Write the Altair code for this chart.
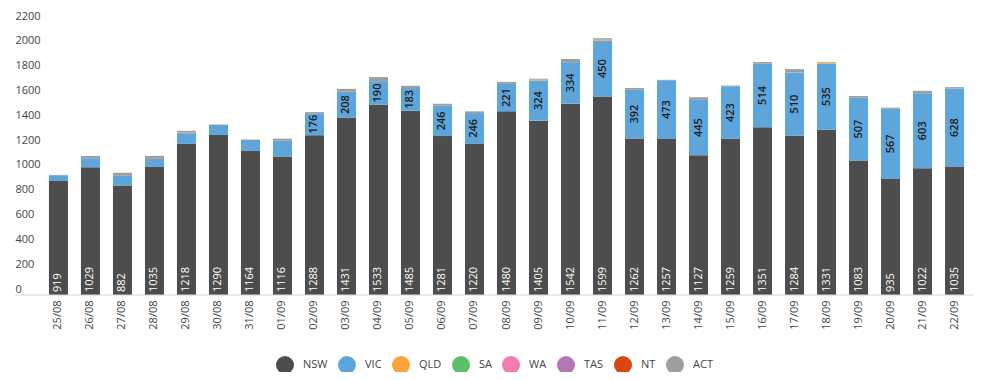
import altair as alt
import pandas as pd

dates = ["25/08", "26/08", "27/08", "28/08", "29/08", "30/08", "31/08",
         "01/09", "02/09", "03/09", "04/09", "05/09", "06/09", "07/09",
         "08/09", "09/09", "10/09", "11/09", "12/09", "13/09", "14/09",
         "15/09", "16/09", "17/09", "18/09", "19/09", "20/09", "21/09", "22/09"]

nsw = [919, 1029, 882, 1035, 1218, 1290, 1164, 1116, 1288, 1431, 1533, 1485, 1281, 1220,
       1480, 1405, 1542, 1599, 1262, 1257, 1127, 1259, 1351, 1284, 1331, 1083, 935, 1022, 1035]
vic = [46, 73, 78, 62, 86, 81, 86, 128, 176, 208, 190, 183, 246, 246,
       221, 324, 334, 450, 392, 473, 445, 423, 514, 510, 535, 507, 567, 603, 628]
qld = [0, 0, 0, 0, 5, 0, 0, 0, 0, 0, 0, 0, 0, 0,
       0, 6, 0, 8, 0, 0, 0, 0, 0, 0, 10, 0, 0, 0, 0]
sa = [0] * 29
wa = [0] * 29
tas = [0] * 29
nt = [0] * 29
act = [3, 18, 26, 24, 14, 3, 3, 16, 10, 22, 33, 18, 14, 14,
       16, 8, 26, 12, 14, 4, 22, 6, 12, 26, 2, 14, 8, 20, 12]

y_ticks = [0, 200, 400, 600, 800, 1000, 1200, 1400, 1600, 1800, 2000, 2200]

states = ["NSW", "VIC", "QLD", "SA", "WA", "TAS", "NT", "ACT"]
colors = ["#4d4d4d", "#5da5da", "#faa43a", "#60bd68", "#f17cb0", "#b276b2", "#d9480f", "#9e9e9e"]
series = [nsw, vic, qld, sa, wa, tas, nt, act]

rows = []
for k, (st, vals) in enumerate(zip(states, series)):
    for d, v in zip(dates, vals):
        rows.append({"date": d, "state": st, "value": v, "ord": k})
long_df = pd.DataFrame(rows)

wide = pd.DataFrame({"date": dates, "NSW": nsw, "VIC": vic})
wide["mid"] = wide["NSW"] + wide["VIC"] / 2
wide["zero"] = 0

FONT = "Open Sans"
LABEL = "#444444"

x_scale = alt.Scale(paddingInner=0.40625, paddingOuter=0.28)
x_axis = alt.Axis(title=None, labelAngle=270, labelFontSize=11, labelFont=FONT,
                  labelColor=LABEL, labelPadding=5, ticks=False, domain=False)

y_scale = alt.Scale(domain=[0, 2200], nice=False)
y_axis = alt.Axis(title=None, values=y_ticks, format="d", grid=False,
                  domain=False, ticks=False, tickSize=0, labelAlign="left",
                  labelPadding=25, labelOffset=-6, labelBaseline="middle",
                  labelFontSize=11, labelFont=FONT, labelColor=LABEL,
                  labelFlush=False, labelOverlap=False)


def xe():
    return alt.X("date:N", sort=dates, scale=x_scale, axis=x_axis)


def ye(field, **kw):
    return alt.Y(field, scale=y_scale, axis=y_axis, **kw)


bars = alt.Chart(long_df).mark_bar().encode(
    x=xe(),
    y=ye("value:Q", stack="zero"),
    color=alt.Color("state:N", scale=alt.Scale(domain=states, range=colors),
                    legend=alt.Legend(title=None, orient="none", legendX=236, legendY=334,
                                      direction="horizontal", symbolType="circle",
                                      symbolSize=324, symbolStrokeWidth=0,
                                      labelFontSize=11, labelFont=FONT, labelColor=LABEL,
                                      labelOffset=9, columnPadding=10, padding=0)),
    order=alt.Order("ord:Q", sort="ascending"),
)

base_rule = alt.Chart(wide).transform_filter("datum.date == '25/08'").mark_rule(
    color="#d4d4d4", strokeWidth=1
).encode(x=alt.value(-25), x2=alt.value(933), y=ye("zero:Q"))

nsw_text = alt.Chart(wide).mark_text(
    angle=270, align="left", baseline="middle", dx=3, color="white", fontSize=11, font=FONT
).encode(x=xe(), y=ye("zero:Q"), text="NSW:Q")

vic_text = alt.Chart(wide).transform_filter("datum.VIC >= 150").mark_text(
    angle=270, align="center", baseline="middle", color="#1a1a1a", fontSize=11,
    font=FONT, fontWeight=600
).encode(x=xe(), y=ye("mid:Q"), text="VIC:Q")

chart = alt.layer(bars, base_rule, nsw_text, vic_text).properties(
    width=933, height=273,
    autosize=alt.AutoSizeParams(type="none"),
    padding={"left": 32, "top": 14, "right": 14, "bottom": 77},
    background="white",
).configure(font=FONT).configure_view(stroke=None)

chart.save("out.html", embed_options={"renderer": "svg", "actions": False})
